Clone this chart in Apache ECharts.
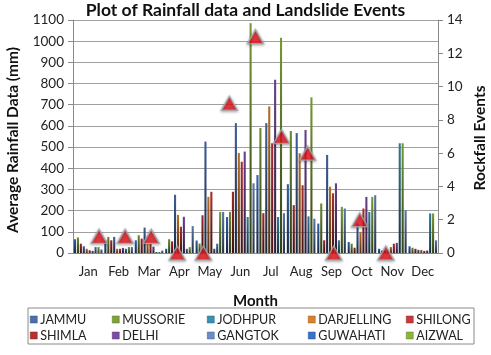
<!DOCTYPE html>
<html>
<head>
<meta charset="utf-8">
<script src="https://cdn.jsdelivr.net/npm/echarts@6/dist/echarts.min.js"></script>
<style>html,body{margin:0;padding:0;background:#fff;}#c{width:491px;height:355px;}</style>
</head>
<body>
<div id="c"></div>
<script>
const months = ['Jan','Feb','Mar','Apr','May','Jun','Jul','Aug','Sep','Oct','Nov','Dec'];
// rainfall (mm) per city, Jan..Dec (bar order follows barOrder)
const GUWAHATI   = [65, 60, 60, 20, 59, 170, 368, 325, 139, 52, 20, 32];
const MUSSORIE   = [73, 76, 84, 65, 45, 194, 590, 576, 234, 44, 12, 25];
const SHIMLA     = [44, 60, 68, 55, 178, 289, 188, 226, 60, 25, 10, 20];
const JAMMU      = [32, 76, 120, 275, 526, 613, 613, 566, 463, 139, 15, 15];
const DARJELLING = [20, 20, 44, 180, 265, 472, 692, 471, 313, 100, 28, 15];
const SHILONG    = [13, 20, 44, 124, 289, 431, 518, 320, 282, 210, 44, 10];
const DELHI      = [10, 24, 30, 171, 20, 479, 818, 581, 329, 265, 48, 12];
const JODHPUR    = [28, 20, 5, 20, 44, 170, 170, 173, 60, 194, 518, 187];
const AIZWAL     = [28, 28, 5, 28, 194, 1085, 1016, 735, 218, 265, 518, 187];
const GANGTOK    = [17, 28, 12, 127, 194, 329, 188, 162, 210, 273, 202, 60];
// rockfall events, one per month
const rockfallEvents = [1, 1, 1, 0, 0, 9, 13, 7, 6, 0, 2, 0];
const rainTicks = [0, 1100, 100];
const eventTicks = [0, 14, 2];

const cityData = {JAMMU, MUSSORIE, JODHPUR, DARJELLING, SHILONG, SHIMLA, DELHI, GANGTOK, GUWAHATI, AIZWAL};
const barOrder = ['GUWAHATI','MUSSORIE','SHIMLA','JAMMU','DARJELLING','SHILONG','DELHI','JODHPUR','AIZWAL','GANGTOK'];
const colors = {
  JAMMU:'#4a6fb0', MUSSORIE:'#7fa23c', JODHPUR:'#3b8fb0', DARJELLING:'#d9822b', SHILONG:'#c8383c',
  SHIMLA:'#b8312f', DELHI:'#7b4ea3', GANGTOK:'#6b8cc4', GUWAHATI:'#3a72c8', AIZWAL:'#8db43c'
};
const legendCols = [['JAMMU','SHIMLA'],['MUSSORIE','DELHI'],['JODHPUR','GANGTOK'],['DARJELLING','GUWAHATI'],['SHILONG','AIZWAL']];
const legendLeft = [30, 112, 207, 308, 406];

function darken(hex, f){
  const n = parseInt(hex.slice(1),16);
  const r = Math.round(((n>>16)&255)*f), g = Math.round(((n>>8)&255)*f), b = Math.round((n&255)*f);
  return 'rgb('+r+','+g+','+b+')';
}

const font = 'Lato, "Open Sans", sans-serif';
const chart = echarts.init(document.getElementById('c'), null, {renderer:'canvas'});

const series = barOrder.map(name => ({
  name, type:'bar', xAxisIndex:0, yAxisIndex:0,
  data: cityData[name],
  barCategoryGap:'6%', barGap:'40%',
  itemStyle:{color:{type:'linear',x:0,y:0,x2:0,y2:1,colorStops:[
    {offset:0,color:darken(colors[name],0.85)},{offset:0.5,color:darken(colors[name],0.6)},{offset:1,color:darken(colors[name],0.35)}]}}
}));
series.push({
  name:'Rockfall', type:'scatter', xAxisIndex:1, yAxisIndex:1, clip:false, z:10,
  symbol:'triangle', symbolSize:[16,14],
  data: rockfallEvents.map((v,i)=>[i+1, v]),
  itemStyle:{color:'#e8141c', borderColor:'#a8a8b0', borderWidth:1.5, shadowBlur:3, shadowColor:'rgba(0,0,0,0.35)', shadowOffsetY:1}
});

const legends = legendCols.map((col,k)=>({
  orient:'vertical', left:legendLeft[k], top:313, padding:0,
  itemWidth:7, itemHeight:7, itemGap:3, icon:'rect', selectedMode:false,
  textStyle:{fontSize:12.5, fontFamily:font, color:'#222', lineHeight:12, padding:[0,0,0,-2]},
  data: col.map(n=>({name:n, itemStyle:{color:colors[n], borderColor:darken(colors[n],0.7), borderWidth:0.5}}))
}));

const nameStyle = {fontSize:15.5, fontWeight:'bold', fontFamily:font, fill:'#111', textAlign:'center', textVerticalAlign:'middle'};

chart.setOption({
  animation:false,
  backgroundColor:'#fff',
  title:{text:'Plot of Rainfall data and Landslide Events', left:'center', top:-4,
    textStyle:{fontSize:17.5, fontWeight:'bold', fontFamily:font, color:'#111'}},
  legend: legends,
  graphic:[
    {type:'rect', shape:{x:28, y:308, width:446, height:36}, style:{fill:'none', stroke:'#8a8a8a', lineWidth:1}, silent:true},
    {type:'text', x:13, y:140, rotation:Math.PI/2, style:Object.assign({text:'Average Rainfall Data (mm)'}, nameStyle), silent:true},
    {type:'text', x:480, y:138, rotation:Math.PI/2, style:Object.assign({text:'Rockfall Events'}, nameStyle), silent:true}
  ],
  grid:{left:73, right:53, top:20, bottom:102, containLabel:false, outerBoundsMode:'none'},
  xAxis:[
    {type:'category', data:months, gridIndex:0,
     axisLine:{lineStyle:{color:'#8a8a8a'}}, axisTick:{show:false},
     axisLabel:{fontSize:13, fontFamily:font, color:'#222', margin:12, interval:0},
     name:'Month', nameLocation:'middle', nameGap:41,
     nameTextStyle:{fontSize:15, fontWeight:'bold', fontFamily:font, color:'#111'}},
    {type:'value', min:0, max:14, show:false, gridIndex:0}
  ],
  yAxis:[
    {type:'value', min:rainTicks[0], max:rainTicks[1], interval:rainTicks[2],
     axisLine:{show:true, lineStyle:{color:'#8a8a8a'}},
     axisTick:{show:true, length:5, lineStyle:{color:'#8a8a8a'}},
     splitLine:{lineStyle:{color:'#a0a0a0'}},
     axisLabel:{fontSize:13.5, fontFamily:font, color:'#222', margin:9, formatter:v=>String(v)}},
    {type:'value', min:eventTicks[0], max:eventTicks[1], interval:eventTicks[2], position:'right',
     axisLine:{show:true, lineStyle:{color:'#8a8a8a'}},
     axisTick:{show:true, length:5, lineStyle:{color:'#8a8a8a'}},
     splitLine:{show:false},
     axisLabel:{fontSize:13.5, fontFamily:font, color:'#222', margin:9, formatter:v=>String(v)}}
  ],
  series
});
</script>
</body>
</html>
